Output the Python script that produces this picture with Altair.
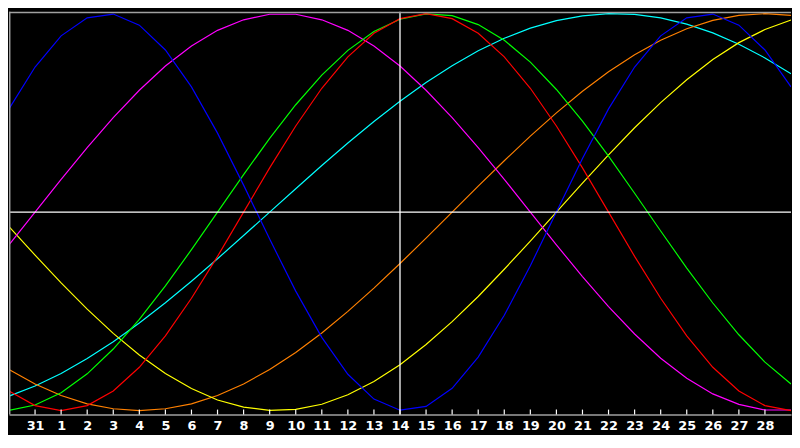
import json
import altair as alt
import pandas as pd

# day index 0..30 and their labels
day_labels = ["30", "31"] + [str(d) for d in range(1, 30)]
tick_days = list(range(1, 30))
today_label = "14"

physical = [0.520, 0.731, 0.888, 0.979, 0.998, 0.942, 0.817, 0.631, 0.398, 0.136,
            -0.136, -0.398, -0.631, -0.817, -0.942, -0.998, -0.979, -0.888, -0.731, -0.520,
            -0.270, 0.000, 0.270, 0.520, 0.731, 0.888, 0.979, 0.998, 0.942, 0.817, 0.631]
emotional = [-0.901, -0.975, -1.000, -0.975, -0.901, -0.782, -0.624, -0.434, -0.223, 0.000,
             0.223, 0.434, 0.624, 0.782, 0.901, 0.975, 1.000, 0.975, 0.901, 0.782,
             0.624, 0.434, 0.223, 0.000, -0.223, -0.434, -0.624, -0.782, -0.901, -0.975, -1.000]
intellectual = [-0.999, -0.972, -0.910, -0.815, -0.690, -0.541, -0.372, -0.189, 0.000, 0.189,
                0.372, 0.541, 0.690, 0.815, 0.910, 0.972, 0.999, 0.990, 0.945, 0.866,
                0.756, 0.618, 0.458, 0.282, 0.095, -0.095, -0.282, -0.458, -0.618, -0.756, -0.866]
intuitive = [-0.165, 0.000, 0.165, 0.325, 0.476, 0.614, 0.736, 0.837, 0.916, 0.969,
             0.997, 0.997, 0.969, 0.916, 0.837, 0.736, 0.614, 0.476, 0.325, 0.165,
             0.000, -0.165, -0.325, -0.476, -0.614, -0.736, -0.837, -0.916, -0.969, -0.997, -0.997]
aesthetic = [-0.073, -0.217, -0.357, -0.489, -0.611, -0.720, -0.813, -0.889, -0.947, -0.983,
             -0.999, -0.994, -0.968, -0.920, -0.854, -0.769, -0.667, -0.552, -0.425, -0.288,
             -0.146, 0.000, 0.146, 0.288, 0.425, 0.552, 0.667, 0.769, 0.854, 0.920, 0.968]
awareness = [-0.793, -0.866, -0.924, -0.966, -0.991, -1.000, -0.991, -0.966, -0.924, -0.866,
             -0.793, -0.707, -0.609, -0.500, -0.383, -0.259, -0.131, 0.000, 0.131, 0.259,
             0.383, 0.500, 0.609, 0.707, 0.793, 0.866, 0.924, 0.966, 0.991, 1.000, 0.991]
spiritual = [-0.927, -0.876, -0.813, -0.738, -0.653, -0.559, -0.457, -0.348, -0.235, -0.118,
             0.000, 0.118, 0.235, 0.348, 0.457, 0.559, 0.653, 0.738, 0.813, 0.876,
             0.927, 0.965, 0.989, 1.000, 0.996, 0.979, 0.947, 0.903, 0.846, 0.777, 0.697]

series_names = ["spiritual", "awareness", "aesthetic", "intuitive", "intellectual", "emotional", "physical"]
series_values = [spiritual, awareness, aesthetic, intuitive, intellectual, emotional, physical]
series_colors = ["#00ffff", "#ff8000", "#ffff00", "#ff00ff", "#00ff00", "#ff0000", "#0000ff"]

rows = []
for name, vals in zip(series_names, series_values):
    for i, v in enumerate(vals):
        rows.append({"t": i, "v": v, "series": name})
df = pd.DataFrame(rows)

W, H = 792, 408
xscale = alt.Scale(domain=[0, 30], nice=False, zero=False)
yscale = alt.Scale(domain=[-1.02, 1.01], nice=False, zero=False)
label_expr = json.dumps(day_labels) + "[datum.value]"
xaxis = alt.Axis(values=tick_days, labelExpr=label_expr, title=None, labelOverlap=False)

lines = alt.Chart(df).mark_line(strokeWidth=1.2, clip=True).encode(
    x=alt.X("t:Q", scale=xscale, axis=xaxis),
    y=alt.Y("v:Q", scale=yscale, axis=None),
    color=alt.Color("series:N", scale=alt.Scale(domain=series_names, range=series_colors), legend=None),
    order=alt.Order("t:Q"),
)

zero_rule = alt.Chart(pd.DataFrame({"v": [0.0]})).mark_rule(color="white", strokeWidth=1.3).encode(
    y=alt.Y("v:Q", scale=yscale, axis=None))

today_rule = alt.Chart(pd.DataFrame({"t": [day_labels.index(today_label)]})).mark_rule(
    color="white", strokeWidth=1.3).encode(x=alt.X("t:Q", scale=xscale, axis=xaxis))

ticks = alt.Chart(pd.DataFrame({"t": tick_days})).mark_rule(color="white", strokeWidth=1.2).encode(
    x=alt.X("t:Q", scale=xscale, axis=xaxis), y=alt.value(H), y2=alt.value(H - 5))

top_border = alt.Chart(pd.DataFrame({"a": [0]})).mark_rule(color="#a0a0a0", strokeWidth=1.5).encode(
    x=alt.value(0), x2=alt.value(W), y=alt.value(0.75))
left_border = alt.Chart(pd.DataFrame({"a": [0]})).mark_rule(color="#a0a0a0", strokeWidth=1.5).encode(
    x=alt.value(0.75), y=alt.value(0), y2=alt.value(H))

chart = alt.layer(lines, zero_rule, today_rule, ticks, top_border, left_border).properties(
    width=W, height=H, padding=0, background="black"
).configure_view(strokeWidth=0).configure_axisX(
    grid=False, ticks=False, tickSize=0, domainColor="#a0a0a0", domainWidth=1.5,
    labelColor="white", labelFont="DejaVu Sans", labelFontWeight="bold",
    labelFontSize=13, labelPadding=5, labelFlush=False, labelOverlap=False)

chart.save("out.html", embed_options={"renderer": "svg", "actions": False})
